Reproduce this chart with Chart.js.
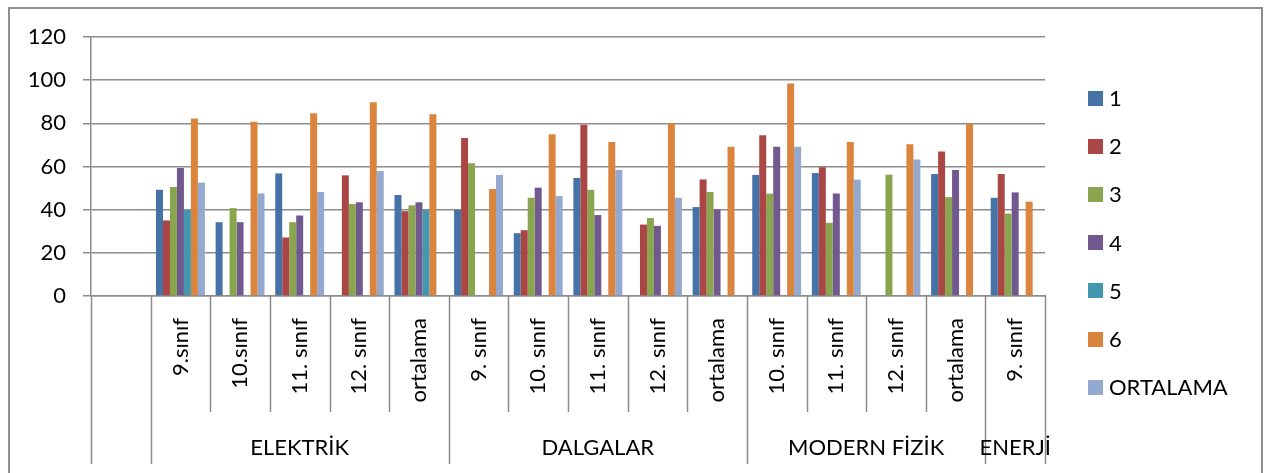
<!DOCTYPE html>
<html>
<head>
<meta charset="utf-8">
<script src="https://cdn.jsdelivr.net/npm/chart.js@4/dist/chart.umd.min.js"></script>
<style>
  html, body { margin: 0; padding: 0; background: #ffffff; }
  #wrap { width: 1272px; height: 473px; position: relative; }
</style>
</head>
<body>
<div id="wrap"><canvas id="c" width="1272" height="473"></canvas></div>
<script>
// Sub-topic labels along the x axis (first slot is an empty category)
const categories = ['', '9.sınıf', '10.sınıf', '11. sınıf', '12. sınıf', 'ortalama',
  '9. sınıf', '10. sınıf', '11. sınıf', '12. sınıf', 'ortalama',
  '10. sınıf', '11. sınıf', '12. sınıf', 'ortalama', '9. sınıf'];

// Topic groups and how many sub-topic categories each spans
const groupNames = ['', 'ELEKTRİK', 'DALGALAR', 'MODERN FİZİK', 'ENERJİ'];
const groupSizes = [1, 5, 5, 4, 1];

const yTicks = [0, 20, 40, 60, 80, 100, 120];

const seriesNames = ['1', '2', '3', '4', '5', '6', 'ORTALAMA'];
const s1 = [null, 49.2, 34.2, 56.8, null, 46.8, 39.9, 29.1, 54.7, null, 41.2, 56.1, 57.0, null, 56.5, 45.5];
const s2 = [null, 35.0, null, 27.1, 55.9, 39.3, 73.2, 30.5, 79.4, 33.1, 54.0, 74.5, 59.6, null, 67.0, 56.5];
const s3 = [null, 50.5, 40.7, 34.2, 42.6, 42.0, 61.5, 45.5, 49.2, 36.1, 48.2, 47.4, 33.9, 56.2, 45.8, 38.2];
const s4 = [null, 59.3, 34.2, 37.3, 43.4, 43.4, null, 50.2, 37.5, 32.5, 40.1, 69.1, 47.5, null, 58.4, 48.0];
const s5 = [null, 39.8, null, null, null, 39.8, null, null, null, null, null, null, null, null, null, null];
const s6 = [null, 82.2, 80.7, 84.7, 89.8, 84.2, 49.6, 74.9, 71.4, 80.1, 69.1, 98.5, 71.4, 70.3, 79.9, 43.7];
const sAvg = [null, 52.5, 47.5, 48.2, 57.9, null, 56.1, 46.3, 58.4, 45.5, null, 69.1, 53.9, 63.3, null, null];

const colors = ['#4572A7', '#AA4643', '#89A54E', '#71588F', '#4198AF', '#DB843D', '#93A9CF'];
const seriesData = [s1, s2, s3, s4, s5, s6, sAvg];

const FONT = 'Lato, "DejaVu Sans", sans-serif';
const FONT_SIZE = 22;
const LINE = '#8c8c8c';

// Group separators, group titles, legend and the outer frame
const decorations = {
  id: 'decorations',
  afterDraw(chart) {
    const ctx = chart.ctx;
    const xs = chart.scales.x;
    const axisY = chart.chartArea.bottom;
    const edge = i => xs.getPixelForValue(i - 0.5);

    // which category edges start a new group
    const groupEdges = [0];
    groupSizes.reduce((acc, n) => { groupEdges.push(acc + n); return acc + n; }, 0);

    ctx.save();
    ctx.strokeStyle = LINE;
    ctx.lineWidth = 1.5;
    for (let i = 0; i <= categories.length; i++) {
      const isGroup = groupEdges.includes(i);
      const x = Math.round(edge(i)) + 0.5;
      ctx.beginPath();
      ctx.moveTo(x, axisY);
      ctx.lineTo(x, isGroup ? 464 : 412);
      ctx.stroke();
    }

    // group titles
    ctx.fillStyle = '#000';
    ctx.font = FONT_SIZE + 'px ' + FONT;
    ctx.textAlign = 'center';
    ctx.textBaseline = 'middle';
    let start = 0;
    groupSizes.forEach((n, g) => {
      const cx = (edge(start) + edge(start + n)) / 2;
      if (groupNames[g]) ctx.fillText(groupNames[g], cx, 448);
      start += n;
    });

    // legend
    ctx.textAlign = 'left';
    chart.data.datasets.forEach((ds, i) => {
      const cy = 98 + i * 48.2;
      ctx.fillStyle = ds.backgroundColor;
      ctx.fillRect(1088, Math.round(cy - 7.5), 15, 15);
      ctx.fillStyle = '#000';
      ctx.fillText(ds.label, 1109, cy + 1);
    });

    // outer frame
    ctx.strokeStyle = '#8e8e8e';
    ctx.lineWidth = 2;
    ctx.strokeRect(9, 8, 1253, 480);
    ctx.restore();
  }
};

new Chart(document.getElementById('c'), {
  type: 'bar',
  data: {
    labels: categories,
    datasets: seriesData.map((d, i) => ({
      label: seriesNames[i],
      data: d,
      backgroundColor: colors[i],
      borderWidth: 0,
      categoryPercentage: 0.82,
      barPercentage: 1.0
    }))
  },
  options: {
    responsive: false,
    animation: false,
    devicePixelRatio: 1,
    layout: { padding: { top: 37, right: 227, left: 0, bottom: 0 } },
    plugins: {
      legend: { display: false },
      tooltip: { enabled: false },
      title: { display: false }
    },
    scales: {
      x: {
        grid: { drawOnChartArea: false, drawTicks: false, display: true },
        border: { display: true, color: LINE, width: 1.5 },
        ticks: {
          autoSkip: false,
          minRotation: 90,
          maxRotation: 90,
          padding: 22,
          color: '#000',
          font: { family: FONT, size: FONT_SIZE }
        },
        afterFit(scale) { scale.height = 177; }
      },
      y: {
        min: 0,
        max: 120,
        afterBuildTicks(scale) { scale.ticks = yTicks.map(v => ({ value: v })); },
        grid: { color: LINE, lineWidth: 1.5, tickLength: 8, drawTicks: true },
        border: { display: true, color: LINE, width: 1.5 },
        ticks: {
          padding: 17,
          color: '#000',
          font: { family: FONT, size: FONT_SIZE }
        },
        afterFit(scale) { scale.width = 91; }
      }
    }
  },
  plugins: [decorations]
});
</script>
</body>
</html>
